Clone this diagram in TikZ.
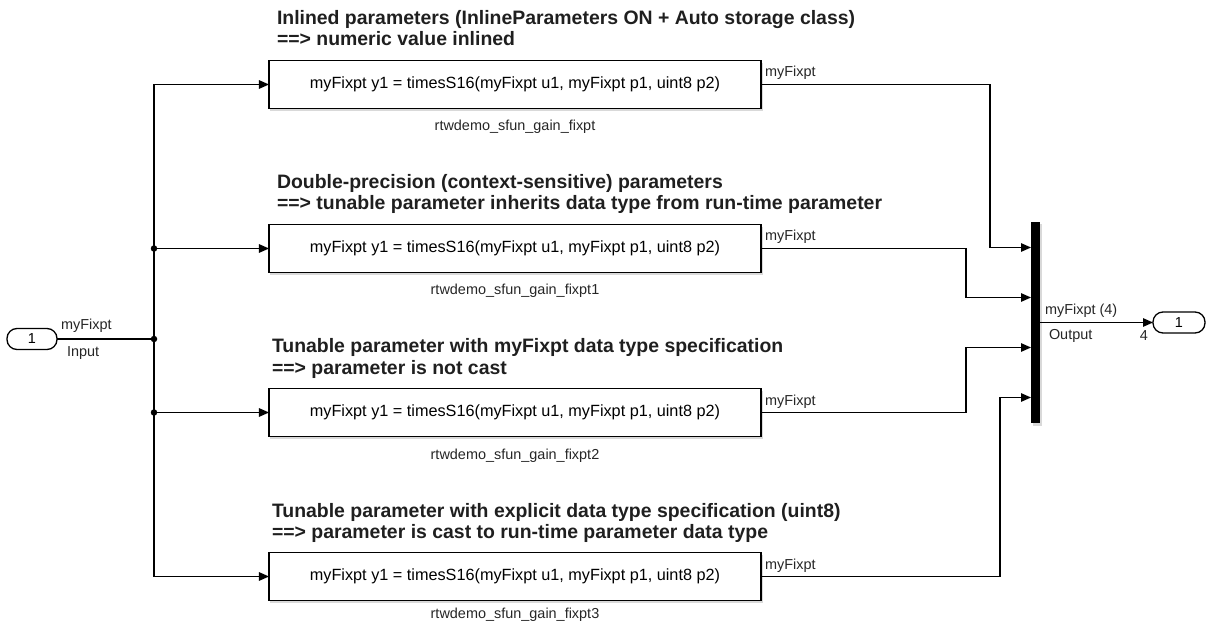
\documentclass[tikz,border=0pt]{standalone}
\usepackage{fontspec}
\setmainfont{Liberation Sans}
\usetikzlibrary{arrows.meta,shadows}
\begin{document}
\begin{tikzpicture}[x=1bp,y=-1bp,
  every node/.style={inner sep=0pt,outer sep=0pt},
  blk/.style={draw,line width=1.4bp,minimum width=492bp,minimum height=48bp,fill=white,
    font=\fontsize{16.3}{19}\selectfont,
    drop shadow={shadow xshift=1.5bp,shadow yshift=-2.5bp,opacity=0.3}},
  ttl/.style={anchor=base west,font=\fontsize{19.5}{23}\selectfont\bfseries,text=black!88},
  lbl/.style={font=\fontsize{14.5}{17}\selectfont,text=black!85},
  sig/.style={line width=1.3bp,-{Triangle[length=10bp,width=8.5bp]}},
  wire/.style={line width=1.3bp},
  port/.style={draw,line width=1.3bp,rounded corners=10bp,minimum width=50bp,minimum height=21bp,
    fill=white,font=\fontsize{14.5}{17}\selectfont},
  junction/.style={circle,fill=black,minimum size=6.5bp}]
\useasboundingbox (0,0) rectangle (1207,623);

% titles
\node[ttl] (t1a) at (277,25) {Inlined parameters (InlineParameters ON + Auto storage class)};
\node[ttl] (t1b) at (277,46) {==> numeric value inlined};
\node[ttl] (t2a) at (277,189) {Double-precision (context-sensitive) parameters};
\node[ttl] (t2b) at (277,210) {==> tunable parameter inherits data type from run-time parameter};
\node[ttl] (t3a) at (272,353) {Tunable parameter with myFixpt data type specification};
\node[ttl] (t3b) at (272,374) {==> parameter is not cast};
\node[ttl] (t4a) at (272,517) {Tunable parameter with explicit data type specification (uint8)};
\node[ttl] (t4b) at (272,538) {==> parameter is cast to run-time parameter data type};

% blocks
\node[blk] (b1) at (515,84.5) {myFixpt y1 = timesS16(myFixpt u1, myFixpt p1, uint8 p2)};
\node[blk] (b2) at (515,248.5) {myFixpt y1 = timesS16(myFixpt u1, myFixpt p1, uint8 p2)};
\node[blk] (b3) at (515,412.5) {myFixpt y1 = timesS16(myFixpt u1, myFixpt p1, uint8 p2)};
\node[blk] (b4) at (515,576.5) {myFixpt y1 = timesS16(myFixpt u1, myFixpt p1, uint8 p2)};

% block names
\node[lbl,anchor=base] (n1) at (515,131) {rtwdemo\_sfun\_gain\_fixpt};
\node[lbl,anchor=base] (n2) at (515,295) {rtwdemo\_sfun\_gain\_fixpt1};
\node[lbl,anchor=base] (n3) at (515,459) {rtwdemo\_sfun\_gain\_fixpt2};
\node[lbl,anchor=base] (n4) at (515,618.5) {rtwdemo\_sfun\_gain\_fixpt3};

% ports and mux
\node[port] (in) at (32,339) {1};
\node[port,minimum width=52bp] (out) at (1179,322.5) {1};
\node[draw=none,fill=black,minimum width=9bp,minimum height=201bp,
  drop shadow={shadow xshift=1.5bp,shadow yshift=-2.5bp,opacity=0.3}] (mux) at (1035.5,322.5) {};

% input wiring
\coordinate (split) at (154,339);
\draw[wire] (in.east) -- (split);
\draw[sig] (split) |- (b1.west);
\draw[sig] (split) |- (b2.west);
\draw[sig] (split) |- (b3.west);
\draw[sig] (split) |- (b4.west);
\node[junction] (j2) at (split |- b2.west) {};
\node[junction] (j0) at (split) {};
\node[junction] (j3) at (split |- b3.west) {};

% outputs to mux
\draw[sig] (b1.east) -- ++(229,0) |- ([yshift=75bp]mux.west);
\draw[sig] (b2.east) -- ++(205,0) |- ([yshift=25bp]mux.west);
\draw[sig] (b3.east) -- ++(205,0) |- ([yshift=-25bp]mux.west);
\draw[sig] (b4.east) -- ++(239,0) |- ([yshift=-75bp]mux.west);
\draw[sig] (mux.east) -- (out.west);

% signal labels
\node[lbl,anchor=base west] (s0) at (61,330) {myFixpt};
\node[lbl,anchor=base west] (s0b) at (67,357) {Input};
\node[lbl,anchor=base west] (s1) at (765,77) {myFixpt};
\node[lbl,anchor=base west] (s2) at (765,241) {myFixpt};
\node[lbl,anchor=base west] (s3) at (765,405) {myFixpt};
\node[lbl,anchor=base west] (s4) at (765,569) {myFixpt};
\node[lbl,anchor=base west] (sm) at (1045,315) {myFixpt (4)};
\node[lbl,anchor=base west] (so) at (1049,340) {Output};
\node[lbl,anchor=base] (sw) at (1144,341) {4};
\end{tikzpicture}
\end{document}
